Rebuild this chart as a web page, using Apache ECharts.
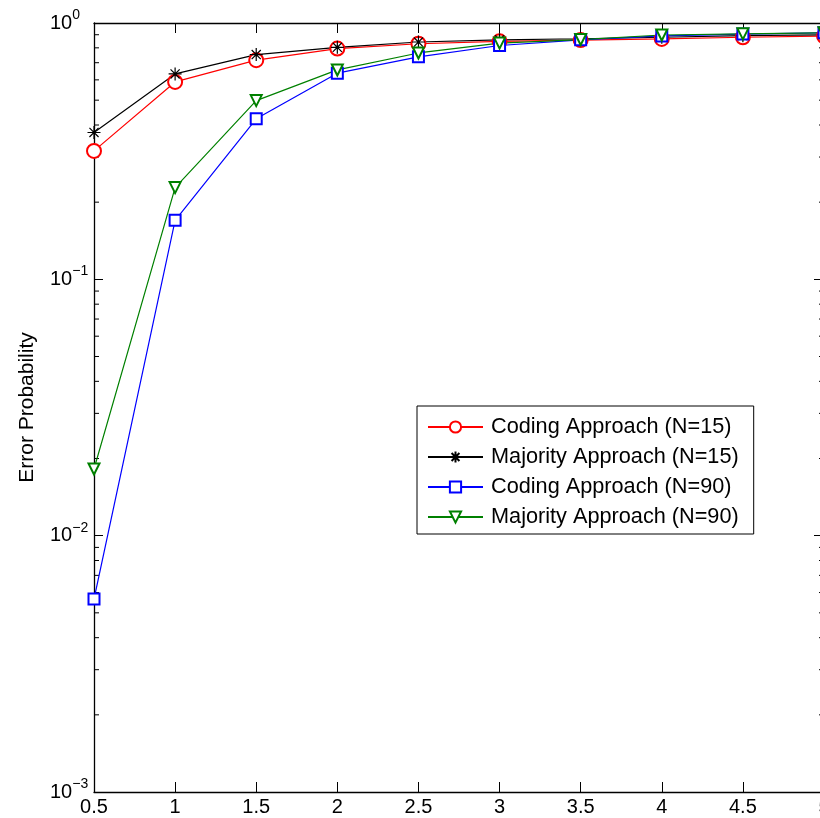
<!DOCTYPE html>
<html>
<head>
<meta charset="utf-8">
<script src="https://cdn.jsdelivr.net/npm/echarts@6/dist/echarts.min.js"></script>
<style>
  html, body { margin: 0; padding: 0; background: #fff; }
  #chart { width: 820px; height: 818px; }
</style>
</head>
<body>
<div id="chart"></div>
<script>
// SNR-style x values shared by all curves
const xValues = [0.5, 1, 1.5, 2, 2.5, 3, 3.5, 4, 4.5, 5];

// Error probability per approach
const codingN15   = [0.317, 0.589, 0.716, 0.795, 0.830, 0.848, 0.858, 0.867, 0.880, 0.890];
const majorityN15 = [0.374, 0.633, 0.753, 0.804, 0.843, 0.860, 0.868, 0.880, 0.892, 0.900];
const codingN90   = [0.00566, 0.170, 0.423, 0.637, 0.738, 0.817, 0.860, 0.890, 0.905, 0.916];
const majorityN90 = [0.0182, 0.228, 0.498, 0.656, 0.764, 0.835, 0.862, 0.898, 0.907, 0.916];

const seriesNames = [
  'Coding Approach (N=15)',
  'Majority Approach (N=15)',
  'Coding Approach (N=90)',
  'Majority Approach (N=90)'
];

const X_MIN = 0.5, X_MAX = 5;
const Y_MIN = 0.001, Y_MAX = 1;

// minor log ticks 2..9 within each decade
const minorTicks = [];
for (let d = -3; d < 0; d++) {
  for (let m = 2; m <= 9; m++) minorTicks.push(m * Math.pow(10, d));
}

const FONT = 'Liberation Sans, Arial, Helvetica, sans-serif';
const asterisk = 'path://M0,-10L0,10M-10,0L10,0M-7,-7L7,7M-7,7L7,-7';

function pairs(ys) { return xValues.map((x, i) => [x, ys[i]]); }

function lineSeries(name, ys, color, symbol, size, extra) {
  return Object.assign({
    name: name,
    type: 'line',
    data: pairs(ys),
    color: color,
    symbol: symbol,
    symbolSize: size,
    showAllSymbol: true,
    lineStyle: { color: color, width: 1.2 },
    itemStyle: { color: color, borderColor: color, borderWidth: 1.2 },
    emphasis: { disabled: true },
    animation: false
  }, extra || {});
}

const chart = echarts.init(document.getElementById('chart'), null, { renderer: 'canvas' });

const logLabel = function (v) {
  const e = Math.round(Math.log10(v));
  return '{b|10}{s|' + (e < 0 ? '\u2212' + (-e) : e) + '}';
};

chart.setOption({
  backgroundColor: '#fff',
  animation: false,
  grid: { left: 94, right: -4, top: 23, bottom: 26, containLabel: false, outerBoundsMode: 'none' },
  legend: {
    data: seriesNames,
    orient: 'vertical',
    left: 417,
    top: 406,
    padding: [10, 15, 6, 10],
    itemWidth: 55,
    itemHeight: 14,
    itemGap: 8,
    backgroundColor: '#fff',
    borderColor: '#000',
    borderWidth: 1,
    borderRadius: 0,
    textStyle: { fontFamily: FONT, fontSize: 21.7, color: '#000', lineHeight: 20, padding: [0, 0, 0, 3] }
  },
  xAxis: [
    {
      type: 'value', min: X_MIN, max: X_MAX, interval: 0.5,
      axisLine: { show: true, onZero: false, lineStyle: { color: '#000', width: 1.3 } },
      axisTick: { show: true, inside: true, length: 10, lineStyle: { color: '#000', width: 1 } },
      axisLabel: { show: true, margin: 5, fontFamily: FONT, fontSize: 20, color: '#000' },
      splitLine: { show: false }
    },
    {
      type: 'value', min: X_MIN, max: X_MAX, interval: 0.5, position: 'top',
      axisLine: { show: true, onZero: false, lineStyle: { color: '#000', width: 1.3 } },
      axisTick: { show: true, inside: true, length: 10, lineStyle: { color: '#000', width: 1 } },
      axisLabel: { show: false },
      splitLine: { show: false }
    }
  ],
  yAxis: [
    {
      type: 'log', logBase: 10, min: Y_MIN, max: Y_MAX,
      name: 'Error Probability',
      nameLocation: 'middle',
      nameGap: 56,
      nameTextStyle: { fontFamily: FONT, fontSize: 21, color: '#000' },
      axisLine: { show: true, onZero: false, lineStyle: { color: '#000', width: 1.3 } },
      axisTick: { show: true, inside: true, length: 9, lineStyle: { color: '#000', width: 1 } },
      axisLabel: {
        show: true, margin: 44, align: 'left',
        formatter: logLabel,
        rich: {
          b: { fontFamily: FONT, fontSize: 20, color: '#000' },
          s: { fontFamily: FONT, fontSize: 14, color: '#000', padding: [0, 0, 16, 0] }
        }
      },
      splitLine: { show: false }
    },
    {
      type: 'log', logBase: 10, min: Y_MIN, max: Y_MAX, position: 'right',
      axisLine: { show: true, onZero: false, lineStyle: { color: '#000', width: 1.3 } },
      axisTick: { show: true, inside: true, length: 10, lineStyle: { color: '#000', width: 1 } },
      axisLabel: { show: false },
      splitLine: { show: false }
    }
  ],
  series: [
    {
      name: 'minor-ticks',
      type: 'custom',
      silent: true,
      clip: false,
      z: 1,
      data: minorTicks.map(v => [X_MIN, v]),
      encode: { x: 0, y: 1 },
      renderItem: function (params, api) {
        const y = api.value(1);
        const pl = api.coord([X_MIN, y]);
        const pr = api.coord([X_MAX, y]);
        return {
          type: 'group',
          children: [
            { type: 'line', shape: { x1: pl[0], y1: pl[1], x2: pl[0] + 5, y2: pl[1] }, style: { stroke: '#000', lineWidth: 1 } },
            { type: 'line', shape: { x1: pr[0], y1: pr[1], x2: pr[0] - 5, y2: pr[1] }, style: { stroke: '#000', lineWidth: 1 } }
          ]
        };
      }
    },
    lineSeries(seriesNames[0], codingN15, '#ff0000', 'emptyCircle', 14),
    lineSeries(seriesNames[1], majorityN15, '#000000', asterisk, 13),
    lineSeries(seriesNames[2], codingN90, '#0000ff', 'emptyRect', 11),
    lineSeries(seriesNames[3], majorityN90, '#008000', 'emptyTriangle', 11, { symbolRotate: 180 })
  ]
});
</script>
</body>
</html>
